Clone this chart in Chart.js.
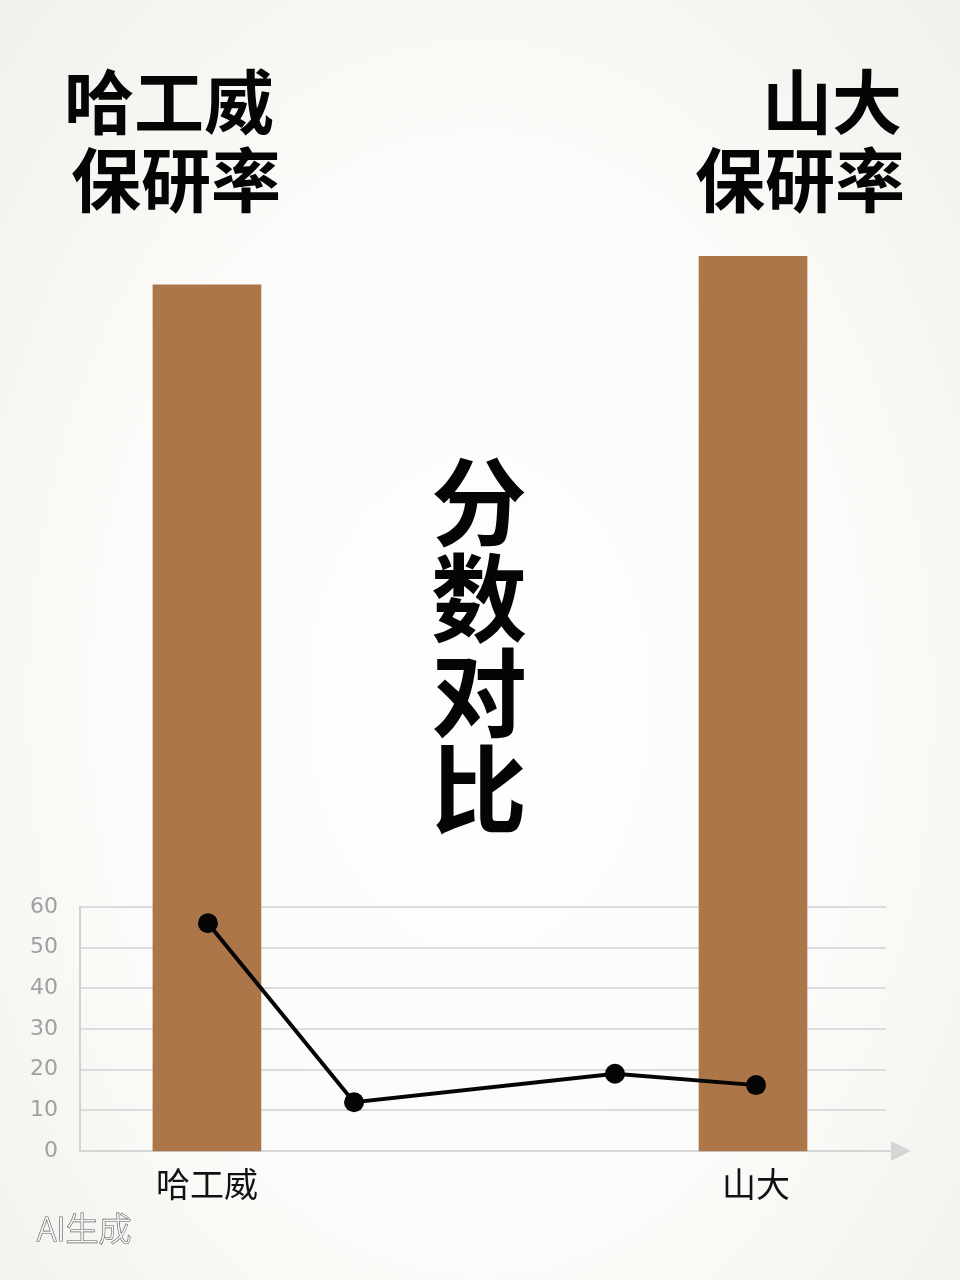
<!DOCTYPE html>
<html>
<head>
<meta charset="utf-8">
<script src="https://cdn.jsdelivr.net/npm/chart.js@4/dist/chart.umd.min.js"></script>
<style>
  html, body { margin: 0; padding: 0; }
  body {
    width: 960px; height: 1280px; overflow: hidden;
    background: radial-gradient(ellipse at 50% 55%, #fefefd 0%, #fbfbf9 55%, #f1f0ec 100%);
  }
  #chart { display: block; }
</style>
</head>
<body>
<canvas id="chart" width="960" height="1280"></canvas>
<script>
// schools on the x axis
const schools = ['哈工威', '山大'];
const schoolX = [1.26, 6.71];
// 保研率 bars (drawn on a hidden axis)
const barX = [1.26, 6.68];
const rates = [21.3, 22.0];
// 分数 line
const scoreX = [1.27, 2.72, 5.31, 6.71];
const scores = [56, 12, 19, 16.2];
// y axis ticks
const yTicks = [0, 10, 20, 30, 40, 50, 60];

const titleLeft = ['哈工威', '保研率'];
const titleRight = ['山大', '保研率'];
const centerTitle = ['分', '数', '对', '比'];
const watermark = 'AI生成';

const cjk = '"Noto Sans CJK SC", "Noto Sans", sans-serif';

// big texts, axis arrow, watermark
const decorPlugin = {
    id: 'decor',
    afterDraw(chart) {
        const ctx = chart.ctx;
        const area = chart.chartArea;
        ctx.save();

        // x axis arrow
        ctx.strokeStyle = '#d6d6d6';
        ctx.lineWidth = 2;
        ctx.beginPath();
        ctx.moveTo(area.right, area.bottom);
        ctx.lineTo(area.right + 6, area.bottom);
        ctx.stroke();
        ctx.fillStyle = '#d6d6d6';
        ctx.beginPath();
        ctx.moveTo(area.right + 5, area.bottom - 10);
        ctx.lineTo(area.right + 25, area.bottom);
        ctx.lineTo(area.right + 5, area.bottom + 10);
        ctx.closePath();
        ctx.fill();

        ctx.fillStyle = '#050505';
        ctx.textBaseline = 'middle';
        ctx.font = 'bold 70px ' + cjk;
        ctx.textAlign = 'left';
        ctx.fillText(titleLeft[0], 64, 102);
        ctx.fillText(titleLeft[1], 71, 180);
        ctx.textAlign = 'right';
        ctx.fillText(titleRight[0], 902, 102);
        ctx.fillText(titleRight[1], 905, 180);

        ctx.textAlign = 'center';
        ctx.font = 'bold 96px ' + cjk;
        centerTitle.forEach((ch, i) => {
            ctx.fillText(ch, 479, 502 + i * 95.5);
        });

        // watermark
        ctx.font = '300 33px ' + cjk;
        ctx.textAlign = 'left';
        ctx.lineWidth = 1.2;
        ctx.strokeStyle = '#5a5a5a';
        ctx.strokeText(watermark, 37, 1228);
        ctx.fillStyle = '#f6f6f6';
        ctx.fillText(watermark, 37, 1228);
        ctx.restore();
    }
};

const ctx = document.getElementById('chart').getContext('2d');
const chart = new Chart(ctx, {
    type: 'bar',
    data: {
        datasets: [
            {
                type: 'line',
                label: '分数',
                data: scoreX.map((x, i) => ({ x: x, y: scores[i] })),
                borderColor: '#050505',
                backgroundColor: '#050505',
                borderWidth: 4,
                pointRadius: 10,
                pointBorderWidth: 0,
                tension: 0,
                order: 0
            },
            {
                type: 'bar',
                label: '保研率',
                data: barX.map((x, i) => ({ x: x, y: rates[i] })),
                yAxisID: 'yRate',
                backgroundColor: '#ad7649',
                borderWidth: 0,
                barThickness: 108,
                clip: false,
                order: 1
            }
        ]
    },
    options: {
        responsive: false,
        animation: false,
        layout: {
            padding: { top: 907, left: 0, right: 74, bottom: 0 }
        },
        scales: {
            x: {
                type: 'linear',
                min: 0,
                max: 8,
                offset: false,
                grid: { display: false, drawTicks: false, offset: false },
                border: { display: true, color: '#d6d6d6', width: 2 },
                afterBuildTicks: (scale) => {
                    scale.ticks = schoolX.map(v => ({ value: v }));
                },
                afterFit: (scale) => { scale.height = 129; },
                ticks: {
                    padding: 13,
                    maxRotation: 0,
                    autoSkip: false,
                    color: '#111111',
                    font: { family: cjk, size: 34 },
                    callback: (value, index) => schools[index]
                }
            },
            y: {
                min: yTicks[0],
                max: yTicks[yTicks.length - 1],
                grid: { color: '#dcdcdc', lineWidth: 2, drawTicks: false },
                border: { display: true, color: '#d2d2d2', width: 2 },
                afterFit: (scale) => { scale.width = 80; },
                ticks: {
                    stepSize: 10,
                    padding: 22,
                    color: '#a0a0a0',
                    font: { family: '"DejaVu Sans", sans-serif', size: 22 }
                }
            },
            yRate: {
                display: false,
                min: 0,
                max: 6
            }
        },
        plugins: {
            legend: { display: false },
            tooltip: { enabled: false }
        }
    },
    plugins: [decorPlugin]
});
</script>
</body>
</html>
